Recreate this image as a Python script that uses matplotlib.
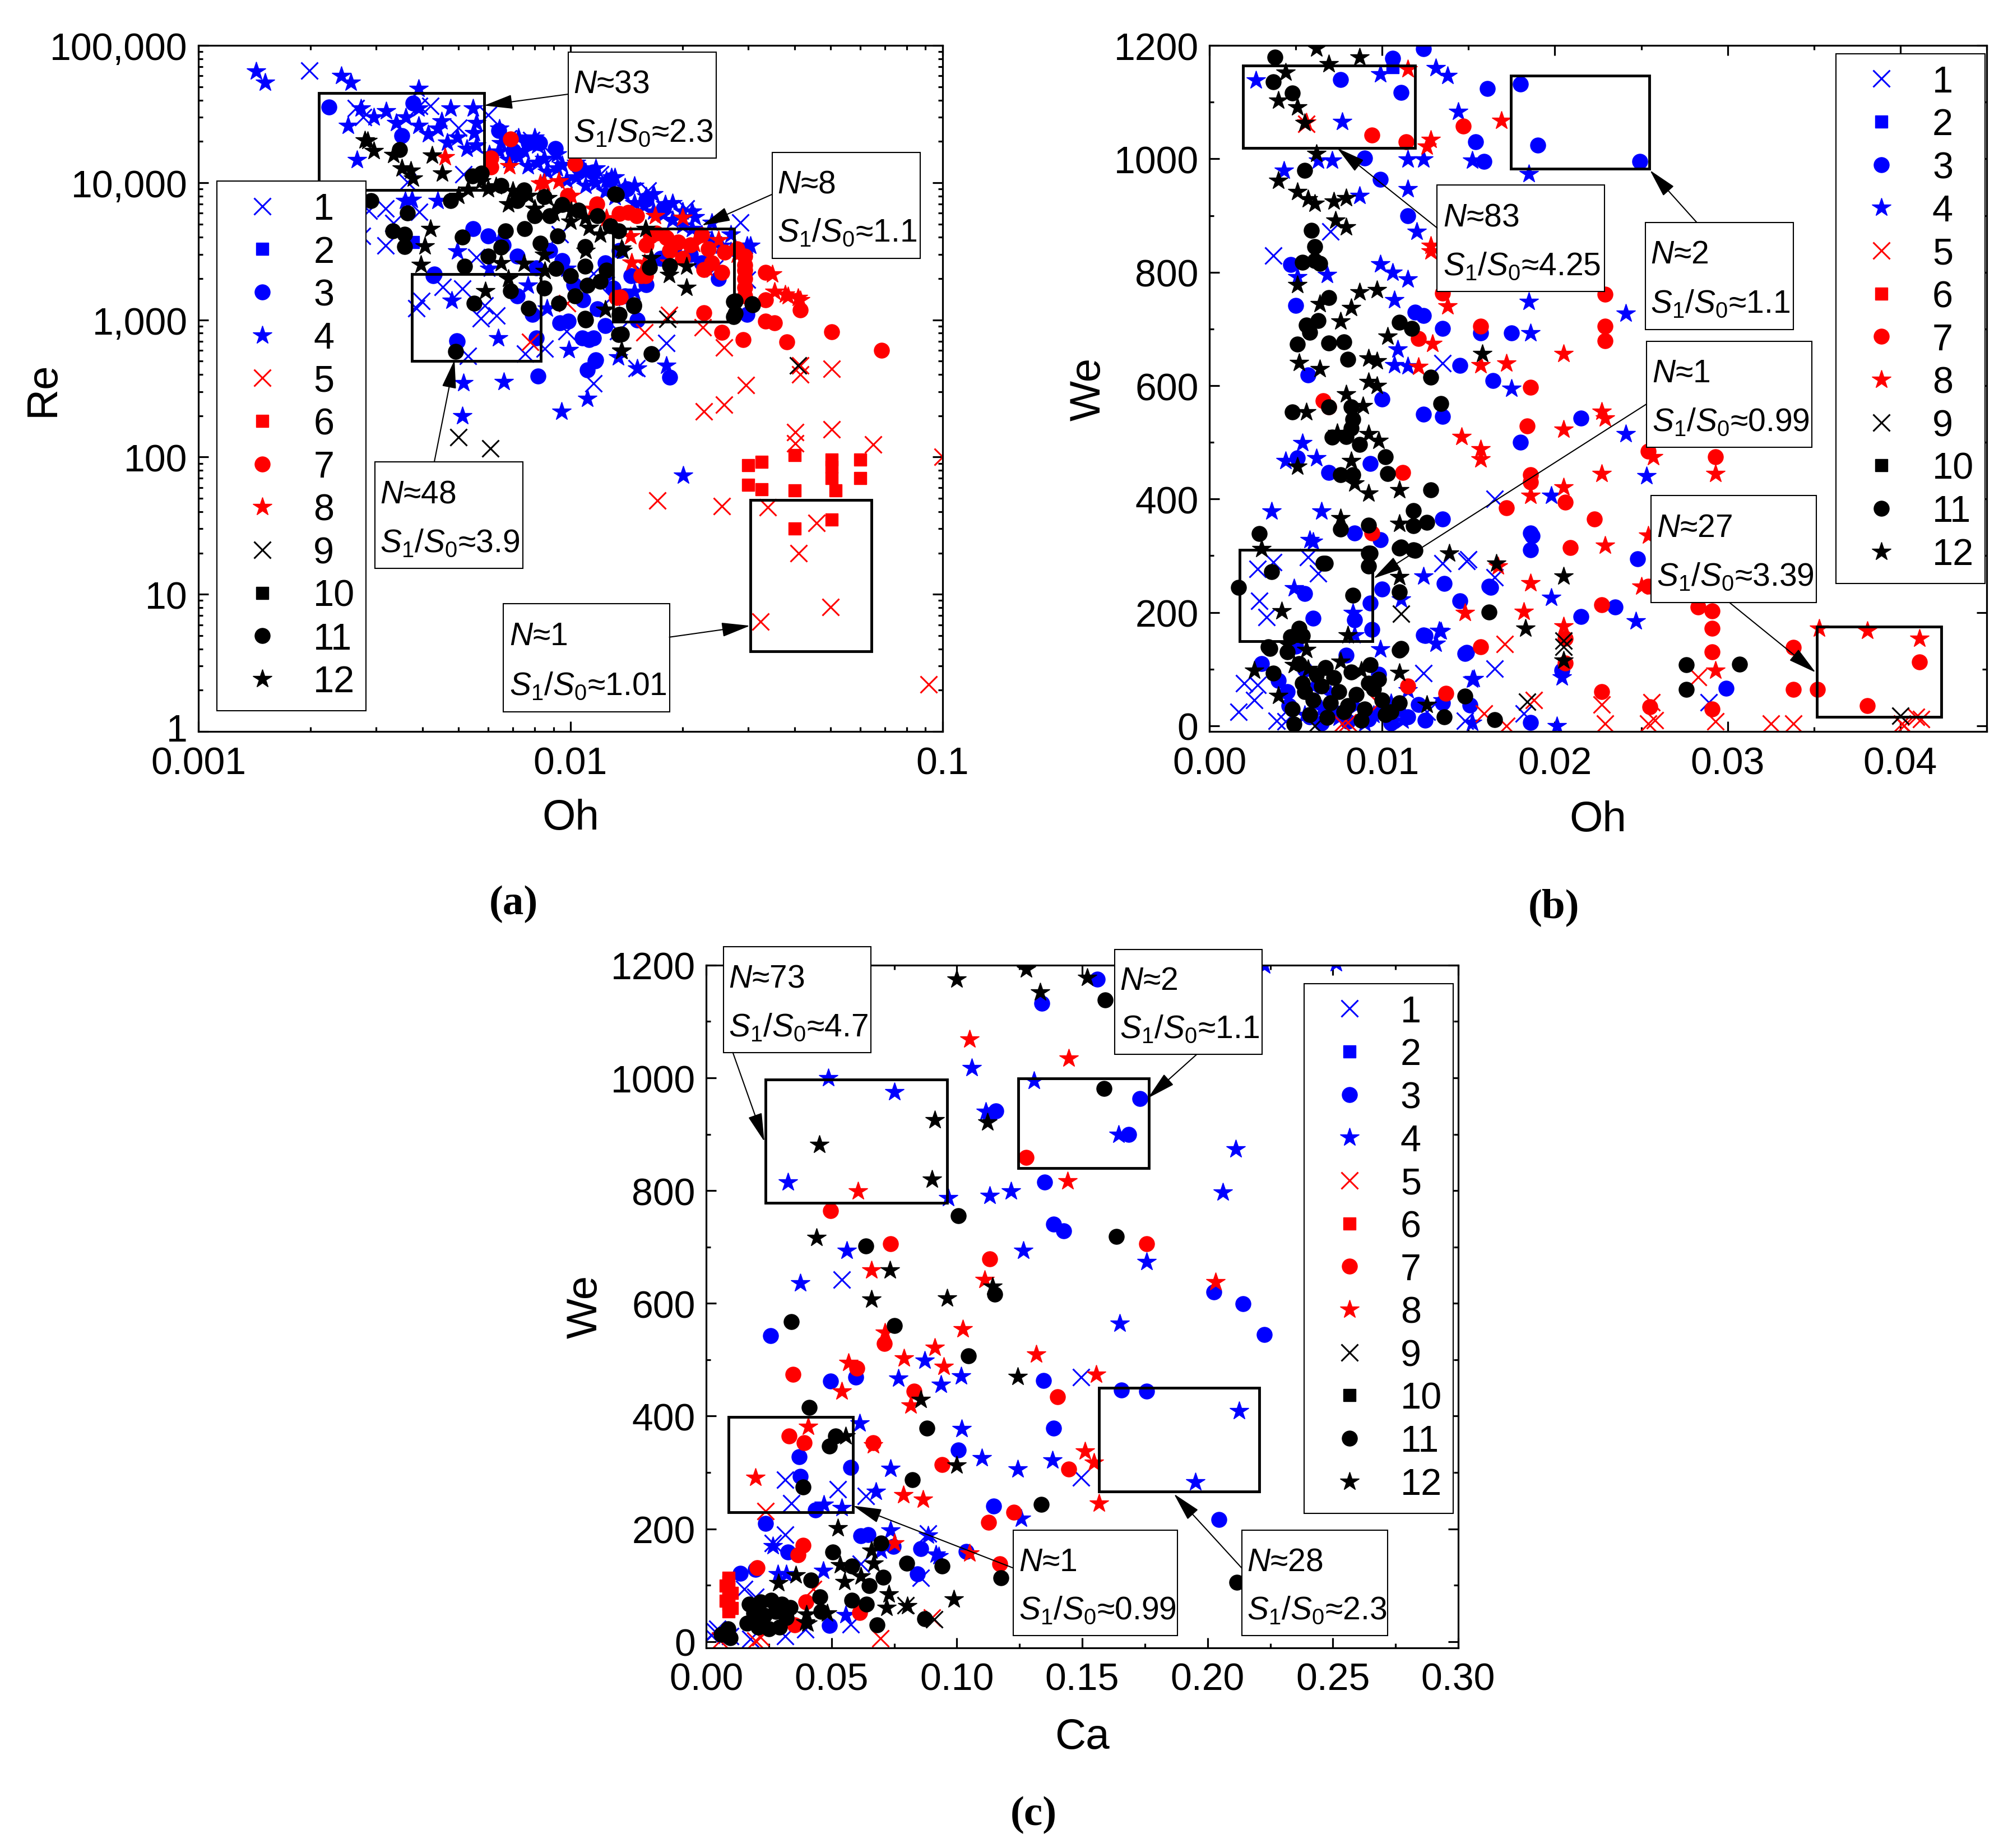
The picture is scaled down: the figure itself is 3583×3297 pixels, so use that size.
import matplotlib
matplotlib.use("Agg")
import matplotlib.pyplot as plt
from matplotlib.patches import Rectangle
from matplotlib.transforms import ScaledTranslation
from matplotlib.ticker import FixedLocator, FuncFormatter, MultipleLocator, LogLocator, NullFormatter

plt.rcParams['font.family'] = ['Liberation Sans', 'DejaVu Sans']
plt.rcParams['mathtext.fontset'] = 'custom'
plt.rcParams['mathtext.rm'] = 'Liberation Sans'
plt.rcParams['mathtext.it'] = 'Liberation Sans:italic'

labels = [str(i) for i in range(1, 13)]

# ---------------- panel (a): Oh vs Re ----------------
a1 = [(0.00199, 65600), (0.00265, 34800), (0.00277, 30100), (0.00392, 36100), (0.00421, 36100),
      (0.00601, 31300), (0.00365, 10100), (0.00287, 6250), (0.00318, 6490), (0.00392, 6130),
      (0.00275, 4100), (0.00318, 3480), (0.00334, 5060), (0.00398, 1370), (0.00386, 1210),
      (0.00453, 1730), (0.00512, 1690), (0.00588, 1270), (0.00575, 1030), (0.00632, 1070),
      (0.00754, 568), (0.00853, 619), (0.00531, 546), (0.01154, 345), (0.01507, 443),
      (0.01614, 8750), (0.01154, 2175), (0.0204, 6490), (0.0181, 681), (0.0244, 2370),
      (0.0298, 1960), (0.0129, 1470), (0.00516, 11500), (0.00784, 20500), (0.00938, 4220),
      (0.01574, 2150), (0.00559, 2870), (0.00977, 826), (0.01343, 826), (0.0286, 5110),
      (0.0050, 25000), (0.0068, 21000), (0.0090, 15500), (0.0120, 11500)]
a2 = [(0.00378, 3690)]
a3 = [(0.00224, 35500), (0.00352, 22000), (0.00378, 37900), (0.00826, 19400), (0.00431, 2150),
      (0.00496, 695), (0.00819, 391), (0.0111, 430), (0.01168, 511), (0.0112, 714), (0.0124, 909),
      (0.00938, 953), (0.01846, 383), (0.01513, 1000), (0.0298, 1100), (0.0124, 2610),
      (0.00809, 736), (0.01074, 736), (0.01154, 736), (0.01166, 501), (0.00494, 701),
      (0.00428, 2090), (0.00547, 4640), (0.00601, 4100), (0.00985, 982), (0.01352, 3190),
      (0.01455, 2090), (0.00703, 17100), (0.0077, 19400), (0.0091, 17800), (0.00642, 23900),
      (0.0066, 3500), (0.0072, 2900), (0.0081, 2400), (0.0088, 3200), (0.0095, 2700),
      (0.0102, 1800), (0.0108, 1400), (0.0118, 1200), (0.0130, 1700), (0.0140, 1500),
      (0.0160, 1800), (0.0175, 2800), (0.0190, 3400), (0.0210, 3000), (0.0225, 2600),
      (0.0250, 2000), (0.0072, 1500), (0.0079, 1100), (0.0105, 13000), (0.0115, 12000),
      (0.0128, 10500), (0.0142, 9000), (0.016, 7500), (0.0178, 6500)]
a4 = [(0.00143, 64900), (0.00151, 53600), (0.00242, 60100), (0.00257, 53600), (0.00391, 48700),
      (0.00516, 348), (0.00512, 200), (0.00661, 355), (0.00946, 215), (0.0111, 266),
      (0.0201, 73.6), (0.01513, 443), (0.0181, 464), (0.01343, 536), (0.00267, 14700),
      (0.00252, 26100), (0.00224, 4220), (0.00548, 34800), (0.008, 21500), (0.0129, 11000),
      (0.0216, 5620), (0.0298, 3480), (0.00375, 7500),
      (0.00273, 34800), (0.00296, 30100), (0.0032, 33200), (0.0034, 27400), (0.00361, 30100),
      (0.00391, 26100), (0.00415, 22600), (0.0044, 24900), (0.00467, 19600), (0.00496, 21500),
      (0.00527, 17800), (0.00559, 18700), (0.00605, 16100), (0.00643, 16900), (0.00682, 14700),
      (0.00724, 15400), (0.00769, 13300), (0.00816, 14000), (0.00866, 12100), (0.0092, 12700),
      (0.00977, 10500), (0.01037, 11000), (0.011, 9530), (0.01168, 10000), (0.0124, 8660),
      (0.01316, 7870), (0.01397, 8250), (0.01483, 7150), (0.01574, 6810), (0.01671, 6190),
      (0.01774, 5900), (0.01883, 5360), (0.02, 4870), (0.02123, 4640), (0.02254, 4220),
      (0.02393, 3830), (0.0254, 3480), (0.02698, 3160),
      (0.00391, 34800), (0.00476, 34800), (0.00559, 27400), (0.00643, 24900), (0.00724, 21500),
      (0.00816, 18700), (0.0092, 16100), (0.01037, 14000), (0.01168, 12700), (0.01316, 11000),
      (0.01483, 9530), (0.01671, 8250), (0.01883, 7150), (0.02123, 6190), (0.02393, 5110),
      (0.02698, 4220), (0.0304, 3480),
      (0.0045, 28000), (0.0055, 23000), (0.0065, 19500), (0.0075, 17000), (0.0085, 15000),
      (0.0095, 13500), (0.0110, 12000), (0.0125, 10500), (0.0140, 9300), (0.0160, 8000),
      (0.0180, 7000), (0.0200, 6200),
      (0.00496, 3160), (0.00605, 2370), (0.00769, 1780), (0.00866, 1210), (0.00977, 2370),
      (0.0124, 1960), (0.01483, 1610), (0.01774, 2870), (0.00643, 3830),
      (0.0064, 736), (0.0099, 605), (0.0048, 1390), (0.0044, 7370), (0.0036, 7370)]
a5 = [(0.0158, 810), (0.0184, 1090), (0.0227, 880), (0.0259, 630), (0.0414, 466), (0.0414, 400),
      (0.0504, 440), (0.0296, 335), (0.0228, 216), (0.0259, 240), (0.0402, 152), (0.0402, 126),
      (0.0504, 159), (0.065, 123), (0.0171, 48), (0.0255, 44), (0.0339, 43), (0.0459, 33),
      (0.041, 20), (0.0324, 6.3), (0.05, 8.1), (0.0916, 2.2), (0.1, 100), (0.0078, 690),
      (0.0098, 1320)]
a6 = [(0.0300, 87), (0.0326, 92), (0.0300, 63), (0.0326, 58), (0.0401, 103), (0.0401, 57),
      (0.0504, 96), (0.0504, 70), (0.0515, 57), (0.0601, 96), (0.0601, 70), (0.0504, 35),
      (0.0401, 30), (0.0504, 85)]
a7 = [(0.0069, 20900), (0.01028, 13700), (0.00611, 15100), (0.00983, 8030), (0.01178, 7020),
      (0.01352, 5960), (0.01507, 5750), (0.0164, 4100), (0.0136, 1470), (0.0159, 2090),
      (0.0143, 6050), (0.0181, 3990), (0.0225, 4170), (0.0228, 2330), (0.0255, 2220),
      (0.0294, 2510), (0.0294, 1720), (0.0334, 2220), (0.0334, 1400), (0.0228, 1130),
      (0.0255, 810), (0.0291, 720), (0.0334, 975), (0.0353, 950), (0.0382, 690), (0.0414, 1180),
      (0.0504, 820), (0.0686, 600), (0.0133, 1450), (0.0155, 2090), (0.00611, 13000),
      (0.017, 4300), (0.0195, 3700), (0.021, 3500), (0.0235, 3300), (0.026, 3100), (0.028, 3300),
      (0.0294, 2900), (0.0294, 2300), (0.0294, 2000), (0.0294, 1500), (0.024, 2600),
      (0.020, 2800), (0.0185, 3200), (0.016, 3500)]
a8 = [(0.0046, 15400), (0.00685, 13200), (0.0083, 9900), (0.0093, 10300), (0.01003, 8030),
      (0.0145, 4100), (0.0085, 10000), (0.0158, 2610), (0.02, 5600), (0.0291, 2900),
      (0.0349, 2150), (0.0378, 1540), (0.0409, 1450), (0.0169, 5750), (0.0353, 1610),
      (0.0384, 1500), (0.0414, 1400), (0.0146, 2630), (0.0184, 2630), (0.025, 3830),
      (0.028, 3000), (0.0115, 6500), (0.0125, 5500), (0.0215, 3600), (0.0232, 2400)]
a9 = [(0.005, 140), (0.0061, 116), (0.0409, 464), (0.0182, 1020)]
a10 = []
a11 = [(0.00291, 7360), (0.00364, 6010), (0.00333, 4430), (0.00358, 4220), (0.00358, 3410),
       (0.00347, 17400), (0.00492, 590), (0.00669, 4440), (0.00512, 4020), (0.01652, 562),
       (0.0137, 787), (0.01353, 1100), (0.01316, 8250), (0.02748, 1360), (0.03076, 1310),
       (0.02748, 1050), (0.011, 1000), (0.0185, 2490), (0.00476, 7370), (0.00545, 11200),
       (0.00577, 11700), (0.00752, 4640), (0.00828, 3620), (0.00925, 4100), (0.00914, 2370),
       (0.01095, 3410), (0.01095, 2460), (0.0111, 1780), (0.01095, 1030), (0.0093, 1320),
       (0.0077, 1210), (0.0069, 1630), (0.0052, 2460), (0.0055, 1320), (0.0128, 4840),
       (0.0148, 1260), (0.0135, 780), (0.0088, 5740), (0.0080, 5740), (0.0072, 7370),
       (0.0118, 5740), (0.0133, 8170), (0.0135, 4440), (0.0163, 2420), (0.0148, 1280),
       (0.0165, 565), (0.0277, 1370), (0.0277, 1120), (0.0309, 1280),
       (0.0060, 2900), (0.0065, 3400), (0.0085, 1700), (0.0100, 2100), (0.0103, 1500),
       (0.0120, 1900), (0.0125, 2300), (0.0065, 9500), (0.0075, 8800), (0.0085, 7900),
       (0.0095, 6900), (0.0105, 6300)]
a12 = [(0.00285, 20200), (0.00296, 17100), (0.00334, 16000), (0.00352, 12700), (0.00372, 12300),
       (0.00378, 10800), (0.00424, 15800), (0.00452, 11700), (0.005, 8080), (0.00577, 10300),
       (0.0063, 9450), (0.007, 8740), (0.0077, 8080), (0.00867, 7750), (0.01004, 6270),
       (0.01095, 5530), (0.0042, 4640), (0.00406, 3460), (0.00396, 2540), (0.0059, 1630),
       (0.0075, 2590), (0.00854, 2290), (0.0124, 1190), (0.0137, 3310), (0.0137, 600),
       (0.0159, 4640), (0.0138, 3200), (0.0165, 2830), (0.0184, 2140), (0.0205, 2460),
       (0.0205, 1720), (0.0137, 595), (0.0028, 20500), (0.0053, 8900), (0.0060, 9000),
       (0.0068, 7000), (0.0080, 6500), (0.0090, 6000), (0.0100, 5200), (0.0112, 4700),
       (0.0120, 4200), (0.0110, 3200), (0.0085, 3000), (0.0065, 2600), (0.0068, 2000)]

# ---------------- panel (b): Oh vs We ----------------
b1 = [(0.0037, 829), (0.0070, 872), (0.0135, 640), (0.0165, 400), (0.0289, 41), (0.0037, 289),
      (0.0028, 277), (0.0063, 269), (0.0057, 297), (0.0029, 220), (0.0033, 192), (0.0020, 75),
      (0.0026, 45), (0.0028, 72), (0.0017, 25), (0.0124, 93), (0.0165, 101), (0.0149, 291),
      (0.0135, 287), (0.0150, 294), (0.0165, 262), (0.0039, 9), (0.0148, 9), (0.0182, 22),
      (0.0044, 8), (0.0126, 25)]
b2 = [(0.0106, 1162)]
b3 = [(0.0124, 1194), (0.0106, 1177), (0.0076, 1140), (0.0111, 1117), (0.0161, 1124), (0.0180, 1132),
      (0.0154, 1030), (0.0159, 995), (0.0190, 1024), (0.0249, 995), (0.0090, 1001), (0.0099, 964),
      (0.0115, 900), (0.0047, 814), (0.0050, 741), (0.0119, 730), (0.0124, 724), (0.0135, 701),
      (0.0157, 693), (0.0175, 693), (0.0145, 636), (0.0164, 609), (0.0100, 576), (0.0124, 550),
      (0.0135, 546), (0.0215, 543), (0.0180, 500), (0.0069, 447), (0.0135, 365), (0.0099, 328),
      (0.0084, 340), (0.0055, 233), (0.0060, 190), (0.0084, 187), (0.0093, 216), (0.0094, 170),
      (0.0100, 241), (0.0136, 251), (0.0145, 220), (0.0163, 244), (0.0125, 159), (0.0149, 129),
      (0.0186, 310), (0.0187, 335), (0.0098, 91), (0.0079, 124), (0.0186, 6), (0.0151, 36),
      (0.0162, 246), (0.0186, 340), (0.0248, 295), (0.0215, 193), (0.0235, 209), (0.0124, 160),
      (0.0148, 127), (0.0204, 98), (0.0299, 66), (0.0051, 472), (0.0093, 463), (0.0057, 619),
      (0.0121, 37), (0.0109, 30), (0.0115, 16), (0.0100, 25), (0.0092, 12), (0.0072, 25),
      (0.0058, 16), (0.0046, 35), (0.0065, 5), (0.0080, 8), (0.0105, 5), (0.0125, 10),
      (0.0135, 40), (0.0045, 60), (0.0055, 100), (0.0050, 140), (0.0030, 110), (0.0040, 80)]
b4 = [(0.0027, 1139), (0.0099, 1150), (0.0077, 1066), (0.0131, 1161), (0.0138, 1147), (0.0144, 1083),
      (0.0071, 997), (0.0063, 997), (0.0115, 999), (0.0124, 999), (0.0152, 997), (0.0185, 974),
      (0.0043, 980), (0.0115, 947), (0.0087, 935), (0.0120, 872), (0.0099, 815), (0.0106, 800),
      (0.0115, 788), (0.0068, 796), (0.0051, 792), (0.0107, 751), (0.0185, 748), (0.0241, 728),
      (0.0186, 693), (0.0109, 664), (0.0107, 637), (0.0115, 635), (0.0175, 595), (0.0054, 499),
      (0.0044, 468), (0.0062, 472), (0.0241, 515), (0.0253, 441), (0.0198, 406), (0.0036, 379),
      (0.0065, 379), (0.0058, 328), (0.0124, 264), (0.0198, 226), (0.0247, 185), (0.0133, 168),
      (0.0131, 145), (0.0099, 135), (0.0152, 82), (0.0204, 86), (0.0201, 0), (0.0049, 243),
      (0.0060, 325), (0.0134, 167), (0.0111, 223), (0.0153, 83), (0.0083, 200), (0.0084, 160),
      (0.0135, 45), (0.0152, 6), (0.0115, 63), (0.0055, 20), (0.0065, 30), (0.0075, 15),
      (0.0085, 35), (0.0095, 20), (0.0105, 40), (0.0112, 10), (0.0070, 55), (0.0060, 70),
      (0.0090, 5)]
b5 = [(0.0171, 144), (0.0188, 45), (0.0172, 0), (0.0227, 37), (0.0229, 4), (0.0256, 41),
      (0.0254, 4), (0.0258, 10), (0.0283, 86), (0.0293, 8), (0.0325, 4), (0.0338, 4), (0.0401, 4),
      (0.0409, 16), (0.0412, 12), (0.0402, 0), (0.0056, 1062), (0.0077, 4), (0.0098, 39),
      (0.0159, 22), (0.0080, 6)]
b6 = []
b7 = [(0.0147, 1058), (0.0094, 1042), (0.0114, 1030), (0.0229, 761), (0.0229, 705), (0.0229, 679),
      (0.0157, 705), (0.0135, 763), (0.0121, 683), (0.0186, 597), (0.0184, 529), (0.0112, 447),
      (0.0186, 443), (0.0186, 430), (0.0254, 484), (0.0293, 474), (0.0172, 384), (0.0206, 394),
      (0.0223, 365), (0.0094, 340), (0.0209, 314), (0.0254, 246), (0.0227, 213), (0.0283, 209),
      (0.0291, 203), (0.0291, 172), (0.0291, 130), (0.0338, 138), (0.0157, 139), (0.0206, 154),
      (0.0206, 111), (0.0411, 113), (0.0352, 64), (0.0338, 64), (0.0381, 35), (0.0227, 60),
      (0.0255, 34), (0.0291, 30), (0.0137, 57), (0.0066, 573), (0.0069, 562), (0.0115, 70)]
b8 = [(0.0115, 1159), (0.0169, 1068), (0.0128, 1034), (0.0126, 1022), (0.0128, 847), (0.0128, 837),
      (0.0138, 740), (0.0129, 674), (0.0121, 634), (0.0157, 637), (0.0172, 640), (0.0205, 656),
      (0.0227, 555), (0.0229, 543), (0.0205, 523), (0.0146, 510), (0.0157, 488), (0.0157, 470),
      (0.0257, 474), (0.0227, 445), (0.0293, 445), (0.0205, 421), (0.0186, 406), (0.0254, 336),
      (0.0229, 318), (0.0186, 252), (0.0250, 246), (0.0182, 202), (0.0148, 200), (0.0205, 176),
      (0.0293, 98), (0.0353, 172), (0.0381, 168), (0.0411, 154), (0.0056, 1065), (0.0167, 282)]
b9 = [(0.0111, 198), (0.0205, 139), (0.0205, 150), (0.0184, 42), (0.0400, 18), (0.0061, 0)]
b10 = []
b11 = [(0.0038, 1179), (0.0037, 1136), (0.0048, 1116), (0.0055, 980), (0.0059, 874), (0.0061, 845),
       (0.0061, 820), (0.0054, 818), (0.0064, 816), (0.0069, 755), (0.0063, 715), (0.0056, 707),
       (0.0051, 673), (0.0058, 694), (0.0069, 675), (0.0078, 677), (0.0080, 646), (0.0110, 712),
       (0.0117, 701), (0.0128, 615), (0.0134, 568), (0.0048, 554), (0.0069, 562), (0.0082, 562),
       (0.0083, 541), (0.0082, 525), (0.0071, 509), (0.0079, 510), (0.0087, 496), (0.0102, 474),
       (0.0076, 443), (0.0083, 443), (0.0103, 445), (0.0128, 416), (0.0118, 380), (0.0118, 353),
       (0.0126, 359), (0.0092, 354), (0.0076, 347), (0.0110, 313), (0.0118, 310), (0.0092, 304),
       (0.0066, 287), (0.0036, 272), (0.0029, 339), (0.0017, 244), (0.0083, 230), (0.0110, 236),
       (0.0162, 201), (0.0110, 133), (0.0052, 172), (0.0034, 139), (0.0276, 108), (0.0307, 109),
       (0.0276, 64), (0.0148, 52), (0.0136, 16), (0.0165, 11), (0.0067, 287), (0.0093, 304),
       (0.0092, 282), (0.0111, 315), (0.0119, 309), (0.0047, 157), (0.0054, 159), (0.0035, 136),
       (0.0037, 93), (0.0067, 103), (0.0093, 108), (0.0098, 82), (0.0054, 75), (0.0111, 136),
       (0.0055, 60), (0.0060, 45), (0.0065, 70), (0.0070, 40), (0.0075, 60), (0.0080, 35),
       (0.0085, 55), (0.0090, 30), (0.0095, 65), (0.0100, 45), (0.0105, 25), (0.0110, 40),
       (0.0058, 20), (0.0068, 15), (0.0078, 25), (0.0088, 10), (0.0062, 90), (0.0072, 85),
       (0.0082, 95), (0.0092, 75), (0.0048, 30), (0.0052, 110), (0.0045, 130), (0.0102, 20),
       (0.0049, 3)]
b12 = [(0.0062, 1195), (0.0087, 1179), (0.0069, 1167), (0.0044, 1153), (0.0040, 1103), (0.0051, 1091),
       (0.0055, 1064), (0.0062, 1009), (0.0040, 962), (0.0051, 942), (0.0057, 929), (0.0061, 921),
       (0.0072, 925), (0.0079, 931), (0.0073, 892), (0.0079, 880), (0.0051, 778), (0.0064, 744),
       (0.0082, 737), (0.0087, 765), (0.0097, 769), (0.0076, 714), (0.0103, 687), (0.0052, 641),
       (0.0092, 648), (0.0097, 644), (0.0064, 630), (0.0092, 607), (0.0097, 600), (0.0079, 585),
       (0.0089, 564), (0.0056, 554), (0.0074, 517), (0.0092, 515), (0.0098, 503), (0.0082, 468),
       (0.0051, 458), (0.0084, 428), (0.0092, 410), (0.0110, 416), (0.0158, 656), (0.0076, 367),
       (0.0110, 357), (0.0110, 263), (0.0139, 304), (0.0166, 287), (0.0205, 264), (0.0030, 312),
       (0.0042, 203), (0.0183, 172), (0.0205, 116), (0.0026, 98), (0.0110, 94), (0.0126, 37),
       (0.0040, 53), (0.0080, 160), (0.0056, 134), (0.0045, 144), (0.0076, 114), (0.0088, 98),
       (0.0057, 101), (0.0049, 108)]

# ---------------- panel (c): Ca vs We ----------------
c1 = [(0.054, 642), (0.1496, 469), (0.1496, 291), (0.0316, 287), (0.0526, 270), (0.034, 245),
      (0.0636, 258), (0.0316, 190), (0.0266, 175), (0.0152, 93), (0.0616, 138), (0.0886, 192),
      (0.0576, 31), (0.0396, 22), (0.0036, 18), (0.0096, 10), (0.0176, 5), (0.0856, 113),
      (0.0316, 10), (0.0197, 79), (0.0045, 23), (0.0020, 12)]
c2 = []
c3 = [(0.156, 1175), (0.134, 1132), (0.1156, 941), (0.1132, 934), (0.173, 963), (0.1686, 900),
      (0.135, 815), (0.1386, 741), (0.1426, 729), (0.0256, 543), (0.0496, 462), (0.0596, 469),
      (0.1346, 463), (0.1656, 446), (0.1756, 444), (0.2026, 620), (0.2142, 599), (0.2226, 545),
      (0.1386, 379), (0.1006, 340), (0.037, 328), (0.0576, 309), (0.0376, 293), (0.0436, 233),
      (0.1146, 240), (0.2046, 217), (0.0236, 210), (0.0616, 188), (0.0646, 190), (0.0746, 169),
      (0.0856, 165), (0.0326, 159), (0.1036, 160), (0.0136, 121), (0.0196, 128), (0.0842, 120),
      (0.0492, 29)]
c4 = [(0.0486, 1000), (0.0752, 975), (0.0326, 815), (0.1308, 995), (0.106, 1018), (0.1116, 940),
      (0.1646, 900), (0.2112, 874), (0.2062, 797), (0.1132, 791), (0.1216, 799), (0.0966, 787),
      (0.056, 694), (0.1266, 694), (0.1756, 674), (0.0376, 636), (0.165, 565), (0.0872, 499),
      (0.0766, 467), (0.1016, 471), (0.0936, 456), (0.0612, 388), (0.102, 378), (0.2126, 409),
      (0.11, 326), (0.0736, 307), (0.1242, 306), (0.1382, 322), (0.0676, 266), (0.047, 243),
      (0.054, 237), (0.1952, 283), (0.1256, 219), (0.0736, 198), (0.0916, 155), (0.0466, 126),
      (0.0286, 120), (0.0266, 170), (0.0556, 47), (0.2512, 1204), (0.2226, 1200), (0.0884, 189),
      (0.0927, 152), (0.0698, 162), (0.0320, 120)]
c5 = [(0.0236, 231), (0.0696, 6), (0.09, 43), (0.0196, 2), (0.0056, 2), (0.0216, 8), (0.0426, 93)]
c6 = [(0.009, 106), (0.009, 93), (0.009, 79), (0.009, 66), (0.009, 53), (0.0078, 99), (0.0103, 86),
      (0.0078, 72), (0.0103, 59), (0.0090, 113)]
c7 = [(0.0496, 764), (0.0736, 706), (0.1132, 679), (0.1756, 706), (0.071, 529), (0.0346, 474),
      (0.06, 485), (0.083, 444), (0.1402, 434), (0.1276, 859), (0.033, 365), (0.0392, 353),
      (0.0666, 353), (0.094, 314), (0.1446, 306), (0.1226, 229), (0.1126, 212), (0.1172, 138),
      (0.0386, 171), (0.0366, 154), (0.0203, 131), (0.0397, 70), (0.0353, 30), (0.0612, 51)]
c8 = [(0.105, 1069), (0.1446, 1035), (0.1442, 817), (0.0606, 799), (0.066, 659), (0.111, 642),
      (0.2032, 638), (0.0712, 549), (0.1024, 555), (0.0912, 522), (0.1316, 510), (0.0788, 503),
      (0.0568, 495), (0.0948, 488), (0.1556, 474), (0.054, 444), (0.0816, 419), (0.151, 338),
      (0.1546, 318), (0.0406, 382), (0.0196, 291), (0.0666, 349), (0.0786, 260), (0.0866, 252),
      (0.1566, 245), (0.075, 175), (0.105, 157)]
c9 = [(0.0796, 64), (0.091, 40)]
c10 = []
c11 = [(0.1592, 1138), (0.1588, 981), (0.1006, 755), (0.1636, 719), (0.0636, 702), (0.1152, 616),
       (0.034, 568), (0.075, 561), (0.1046, 507), (0.0412, 415), (0.088, 379), (0.0492, 347),
       (0.0516, 365), (0.0386, 274), (0.0822, 287), (0.1336, 243), (0.2116, 105), (0.1176, 113),
       (0.0504, 159), (0.0582, 134), (0.0697, 175), (0.08, 139), (0.0941, 134), (0.0707, 114),
       (0.0651, 99), (0.0582, 73), (0.0638, 66), (0.0681, 30), (0.0871, 41), (0.0457, 53),
       (0.0418, 109), (0.0453, 79), (0.0172, 66), (0.0216, 70), (0.0259, 73), (0.0302, 66),
       (0.0336, 60), (0.019, 50), (0.0233, 46), (0.0276, 53), (0.0319, 43), (0.0207, 26),
       (0.025, 23), (0.0293, 26), (0.0086, 23), (0.0095, 7), (0.006, 13), (0.0164, 33)]
c12 = [(0.10, 1175), (0.1276, 1193), (0.152, 1178), (0.1332, 1152), (0.0912, 925), (0.0452, 882),
       (0.1122, 921), (0.09, 820), (0.044, 717), (0.0732, 659), (0.066, 607), (0.0962, 609),
       (0.1142, 630), (0.1242, 470), (0.0856, 429), (0.0556, 365), (0.1, 313), (0.0526, 202),
       (0.0534, 136), (0.0552, 106), (0.066, 162), (0.0668, 139), (0.0616, 116), (0.0728, 84),
       (0.072, 60), (0.0802, 63), (0.0987, 75), (0.0401, 48), (0.0405, 33), (0.0289, 104),
       (0.0358, 118), (0.0483, 50), (0.0396, 35)]

STYLE = [('x', '#0000ff'), ('s', '#0000ff'), ('o', '#0000ff'), ('*', '#0000ff'),
         ('x', '#ff0000'), ('s', '#ff0000'), ('o', '#ff0000'), ('*', '#ff0000'),
         ('x', 'k'), ('s', 'k'), ('o', 'k'), ('*', 'k')]
MS = {'x': 21, 's': 16.5, 'o': 19.5, '*': 25}


def draw_series(ax, series):
    for i, pts in enumerate(series):
        m, c = STYLE[i]
        xs = [p[0] for p in pts]
        ys = [p[1] for p in pts]
        if m == 'x':
            ax.plot(xs, ys, ls='none', marker=m, ms=MS[m], mew=2.2, color=c, label=labels[i])
        else:
            ax.plot(xs, ys, ls='none', marker=m, ms=MS[m], mew=1, color=c, mec=c, label=labels[i])


def add_legend(ax, x0, y1):
    leg = ax.legend(loc='upper left', bbox_to_anchor=(x0, y1), borderaxespad=0, frameon=True,
                    fancybox=False, edgecolor='k', framealpha=1, fontsize=48,
                    labelspacing=0.22, handlelength=1.83, handletextpad=0.45, borderpad=0.3,
                    numpoints=1)
    leg.get_frame().set_linewidth(1.5)
    leg.set_zorder(7)


def note(ax, x0, y0, x1, y1, l1, l2, head, tail):
    ax.add_patch(Rectangle((x0, y0), x1 - x0, y1 - y0, transform=ax.transAxes, fc='white',
                           ec='k', lw=1.5, clip_on=False, zorder=8))
    w = x1 - x0
    h = y1 - y0
    ax.text(x0 + 0.035 * w, y1 - 0.38 * h, l1, transform=ax.transAxes, fontsize=41,
            va='baseline', ha='left', zorder=9, clip_on=False)
    ax.text(x0 + 0.035 * w, y1 - 0.84 * h, l2, transform=ax.transAxes, fontsize=41,
            va='baseline', ha='left', zorder=9, clip_on=False)
    ax.annotate('', xy=head, xycoords='data', xytext=tail, textcoords='axes fraction',
                arrowprops=dict(arrowstyle='-|>,head_length=0.8,head_width=0.2',
                                mutation_scale=40, lw=1.5, color='k', shrinkA=0, shrinkB=0),
                zorder=9, annotation_clip=False)


def box(ax, x0, x1, y0, y1):
    ax.add_patch(Rectangle((x0, y0), x1 - x0, y1 - y0, fill=False, ec='k', lw=3.5, zorder=6))


def style_axes(ax):
    for s in ax.spines.values():
        s.set_linewidth(2.3)
    ax.tick_params(which='both', direction='in', top=True, right=True, width=2.3,
                   labelsize=49, pad=14)
    ax.tick_params(axis='x', which='both', pad=18)
    ax.tick_params(which='major', length=13)
    ax.tick_params(which='minor', length=6)


fig = plt.figure(figsize=(35.83, 32.98), dpi=100)

# ---- (a)
ax = fig.add_axes([0.0988, 0.604, 0.3706, 0.3711])
axa = ax
draw_series(ax, [a1, a2, a3, a4, a5, a6, a7, a8, a9, a10, a11, a12])
ax.set_xscale('log')
ax.set_yscale('log')
ax.set_xlim(0.001, 0.1)
ax.set_ylim(1, 100000)
ax.xaxis.set_major_locator(FixedLocator([0.001, 0.01, 0.1]))
ax.xaxis.set_major_formatter(FuncFormatter(lambda v, p: f'{v:g}'))
ax.xaxis.set_minor_locator(LogLocator(base=10, subs=range(2, 10)))
ax.xaxis.set_minor_formatter(NullFormatter())
ax.yaxis.set_major_locator(FixedLocator([1, 10, 100, 1000, 10000, 100000]))
ax.yaxis.set_major_formatter(FuncFormatter(lambda v, p: f'{v:,.0f}'))
ax.yaxis.set_minor_locator(LogLocator(base=10, subs=range(2, 10)))
ax.yaxis.set_minor_formatter(NullFormatter())
style_axes(ax)
ax.set_xlabel('Oh', fontsize=55)
ax.set_ylabel('Re', fontsize=55)
ax.xaxis.set_label_coords(0.5, -0.097)
ax.yaxis.set_label_coords(-0.182, 0.5)
box(ax, 0.00211, 0.00586, 8830, 45100)
box(ax, 0.00375, 0.00832, 501, 2150)
box(ax, 0.013, 0.0275, 971, 4640)
box(ax, 0.0304, 0.0643, 3.83, 48.7)
note(ax, 0.497, 0.836, 0.696, 0.99, r'$N$≈33', r'$S_1$/$S_0$≈2.3', (0.00586, 36500), (0.497, 0.929))
note(ax, 0.771, 0.69, 0.970, 0.844, r'$N$≈8', r'$S_1$/$S_0$≈1.1', (0.02254, 4870), (0.771, 0.783))
note(ax, 0.237, 0.2375, 0.436, 0.393, r'$N$≈48', r'$S_1$/$S_0$≈3.9', (0.00488, 511), (0.317, 0.393))
note(ax, 0.41, 0.029, 0.633, 0.186, r'$N$≈1', r'$S_1$/$S_0$≈1.01', (0.0304, 5.9), (0.633, 0.1375))
add_legend(ax, 0.025, 0.8025)

# ---- (b)
ax = fig.add_axes([0.6023, 0.604, 0.3871, 0.3711])
draw_series(ax, [b1, b2, b3, b4, b5, b6, b7, b8, b9, b10, b11, b12])
ax.set_xlim(0, 0.045)
ax.set_ylim(-10, 1200)
ax.xaxis.set_major_locator(FixedLocator([0, 0.01, 0.02, 0.03, 0.04]))
ax.xaxis.set_major_formatter(FuncFormatter(lambda v, p: f'{v:.2f}'))
ax.xaxis.set_minor_locator(MultipleLocator(0.005))
ax.yaxis.set_major_locator(FixedLocator([0, 200, 400, 600, 800, 1000, 1200]))
ax.yaxis.set_minor_locator(MultipleLocator(100))
style_axes(ax)
ax.set_xlabel('Oh', fontsize=55)
ax.set_ylabel('We', fontsize=55)
ax.xaxis.set_label_coords(0.5, -0.1)
ax.yaxis.set_label_coords(-0.129, 0.5)
box(ax, 0.00196, 0.0119, 1019, 1165)
box(ax, 0.01744, 0.02548, 983, 1147)
box(ax, 0.00176, 0.00945, 149, 310)
box(ax, 0.03516, 0.04236, 16, 175)
note(ax, 0.293, 0.641, 0.508, 0.797, r'$N$≈83', r'$S_1$/$S_0$≈4.25', (0.0074, 1019), (0.293, 0.734))
note(ax, 0.561, 0.586, 0.751, 0.742, r'$N$≈2', r'$S_1$/$S_0$≈1.1', (0.0255, 980), (0.627, 0.742))
note(ax, 0.562, 0.414, 0.775, 0.569, r'$N$≈1', r'$S_1$/$S_0$≈0.99', (0.0095, 260), (0.562, 0.477))
note(ax, 0.568, 0.188, 0.781, 0.344, r'$N$≈27', r'$S_1$/$S_0$≈3.39', (0.0351, 94), (0.669, 0.188))
add_legend(ax, 0.806, 0.988)

# ---- (c)
ax = fig.add_axes([0.3517, 0.1083, 0.3745, 0.3693])
draw_series(ax, [c1, c2, c3, c4, c5, c6, c7, c8, c9, c10, c11, c12])
ax.set_xlim(0, 0.30)
ax.set_ylim(-11, 1200)
ax.xaxis.set_major_locator(FixedLocator([0, 0.05, 0.10, 0.15, 0.20, 0.25, 0.30]))
ax.xaxis.set_major_formatter(FuncFormatter(lambda v, p: f'{v:.2f}'))
ax.xaxis.set_minor_locator(MultipleLocator(0.025))
ax.yaxis.set_major_locator(FixedLocator([0, 200, 400, 600, 800, 1000, 1200]))
ax.yaxis.set_minor_locator(MultipleLocator(100))
style_axes(ax)
ax.set_xlabel('Ca', fontsize=55)
ax.set_ylabel('We', fontsize=55)
ax.xaxis.set_label_coords(0.5, -0.102)
ax.yaxis.set_label_coords(-0.134, 0.5)
box(ax, 0.0236, 0.096, 778, 997)
box(ax, 0.1246, 0.1766, 840, 999)
box(ax, 0.009, 0.0586, 229, 398)
box(ax, 0.1566, 0.2206, 266, 450)
note(ax, 0.023, 0.872, 0.219, 1.027, r'$N$≈73', r'$S_1$/$S_0$≈4.7', (0.0232, 887), (0.0354, 0.872))
note(ax, 0.543, 0.869, 0.739, 1.023, r'$N$≈2', r'$S_1$/$S_0$≈1.1', (0.1762, 964), (0.652, 0.869))
note(ax, 0.408, 0.018, 0.627, 0.172, r'$N$≈1', r'$S_1$/$S_0$≈0.99', (0.0586, 241), (0.408, 0.117))
note(ax, 0.712, 0.018, 0.906, 0.172, r'$N$≈28', r'$S_1$/$S_0$≈2.3', (0.1866, 262), (0.712, 0.117))
add_legend(ax, 0.795, 0.973)

for txt, x, y in [('(a)', 0.2557, 0.511), ('(b)', 0.7737, 0.509), ('(c)', 0.5147, 0.018)]:
    fig.text(x, y, txt, fontsize=54, fontweight='bold', family='Liberation Serif',
             ha='center', va='center')

# nudge the lowest Re label ("1") up a little so it clears "0.001"
fig.canvas.draw()
lab = axa.yaxis.get_major_ticks()[0].label1
lab.set_transform(lab.get_transform() + ScaledTranslation(0, 6 / 72, fig.dpi_scale_trans))

fig.savefig('out.png', dpi=100)
